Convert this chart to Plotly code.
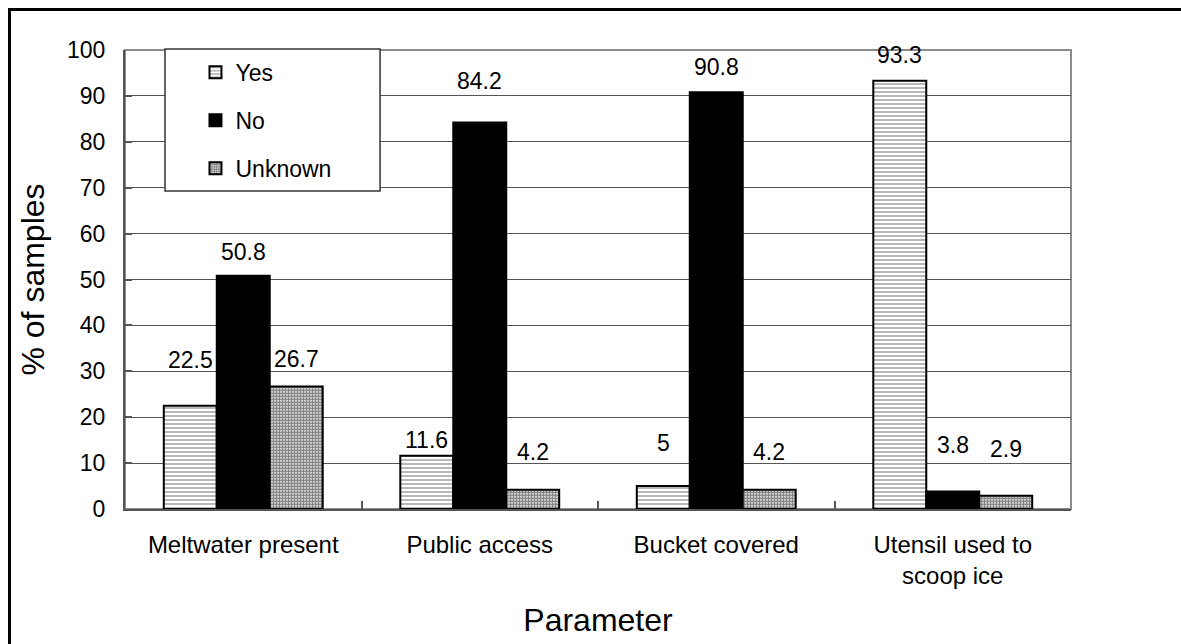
import plotly.graph_objects as go

# Survey results: share of ice samples per answer, by parameter
parameters = ["Meltwater present", "Public access", "Bucket covered", "Utensil used to<br>scoop ice"]
yes_pct = [22.5, 11.6, 5, 93.3]
no_pct = [50.8, 84.2, 90.8, 3.8]
unknown_pct = [26.7, 4.2, 4.2, 2.9]

series = [
    ("Yes", yes_pct, dict(shape="-", fgcolor="#4d4d4d", bgcolor="white", size=4, solidity=0.4)),
    ("No", no_pct, None),
    ("Unknown", unknown_pct, dict(shape=".", fgcolor="black", bgcolor="white", size=3, solidity=0.7)),
]

# pixel lift of each value label above its bar
label_lift = [
    [46, 16, 43, 26],
    [24, 42, 25, 47],
    [27, 38, 38, 47],
]

FONT = "Arial, Liberation Sans, sans-serif"
BAR_W = 0.224  # width of one bar in category units

fig = go.Figure()
for k, (name, vals, pat) in enumerate(series):
    marker = dict(color="white" if pat else "black", line=dict(color="black", width=2))
    if pat:
        marker["pattern"] = pat
    fig.add_trace(go.Bar(
        name=name, x=parameters, y=vals, marker=marker,
        legendgroup=name, hoverinfo="x+y+name",
    ))
    for i, v in enumerate(vals):
        fig.add_annotation(
            x=i + (k - 1) * BAR_W, y=v, xref="x", yref="y",
            text=f"{v:g}", showarrow=False, yanchor="middle",
            yshift=label_lift[k][i],
            font=dict(family=FONT, size=23, color="black"),
        )

# plot-area border (top and right), legend box and outer frame
fig.add_shape(type="rect", xref="paper", yref="paper", x0=0, x1=1, y0=0, y1=1,
              line=dict(color="#8c8c8c", width=2), layer="below")
fig.add_shape(type="rect", xref="paper", yref="paper",
              x0=0.0423, x1=0.2696, y0=0.6928, y1=1.0022,
              line=dict(color="#333333", width=1.5), fillcolor="white", layer="above")
fig.add_shape(type="rect", xref="paper", yref="paper",
              x0=-0.1221, x1=1.2, y0=-0.5, y1=1.0882,
              line=dict(color="black", width=3), layer="below")

fig.update_layout(
    width=1181, height=644,
    margin=dict(l=125, r=110, t=50, b=135),
    paper_bgcolor="white", plot_bgcolor="white",
    barmode="group", bargap=0.328, bargroupgap=0,
    font=dict(family=FONT, size=23, color="black"),
    showlegend=True,
    legend=dict(
        x=0.0745, y=0.998, xanchor="left", yanchor="top",
        bgcolor="rgba(0,0,0,0)", borderwidth=0,
        traceorder="grouped", tracegroupgap=15,
        font=dict(family=FONT, size=23, color="black"),
    ),
    xaxis=dict(
        type="category", tickson="boundaries", ticks="inside", ticklen=8,
        tickcolor="#555555", tickwidth=1.5,
        showline=True, linecolor="#555555", linewidth=2,
        showgrid=False, ticklabelstandoff=13,
        tickfont=dict(family=FONT, size=24, color="black"),
        title=dict(text="Parameter", standoff=21, font=dict(family=FONT, size=32, color="black")),
        automargin=False,
    ),
    yaxis=dict(
        range=[0, 100], dtick=10, ticks="inside", ticklen=7,
        tickcolor="#555555", tickwidth=1.5,
        showline=True, linecolor="#555555", linewidth=2,
        showgrid=True, gridcolor="#555555", gridwidth=1,
        zeroline=False, ticklabelstandoff=13,
        tickfont=dict(family=FONT, size=23, color="black"),
        title=dict(text="% of samples", standoff=13, font=dict(family=FONT, size=32, color="black")),
        automargin=False,
    ),
)

fig.write_html("out.html")
